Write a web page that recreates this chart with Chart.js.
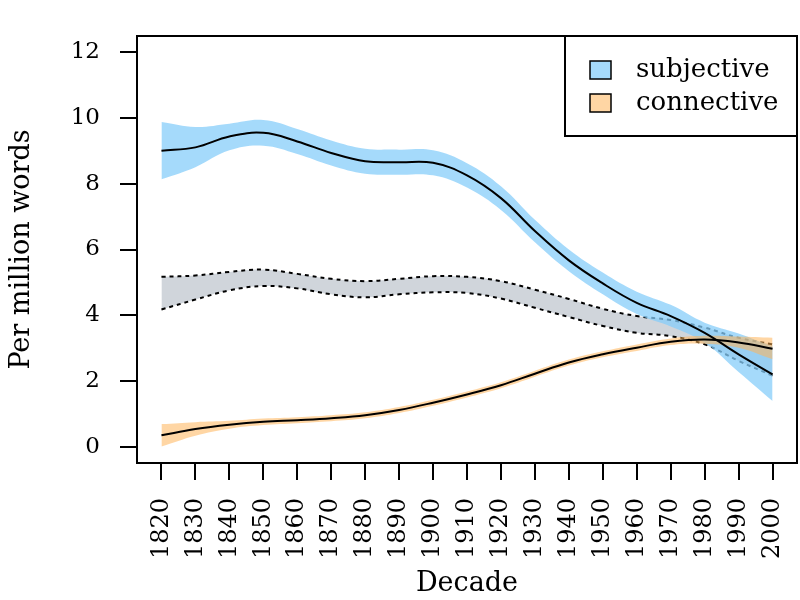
<!DOCTYPE html>
<html>
<head>
<meta charset="utf-8">
<script src="https://cdn.jsdelivr.net/npm/chart.js@4"></script>
<style>
  body { margin: 0; background: #fff; }
  canvas { display: block; }
</style>
</head>
<body>
<canvas id="chart" width="800" height="600"></canvas>
<script>
const decades = [1820, 1830, 1840, 1850, 1860, 1870, 1880, 1890, 1900, 1910,
  1920, 1930, 1940, 1950, 1960, 1970, 1980, 1990, 2000];
const yTicks = [0, 2, 4, 6, 8, 10, 12];

// subjective: smoothed mean and band
const subjective = [9.0, 9.1, 9.43, 9.54, 9.28, 8.93, 8.68, 8.65, 8.63, 8.25,
  7.56, 6.56, 5.67, 4.97, 4.38, 3.98, 3.47, 2.82, 2.21];
const subjUpper = [9.87, 9.72, 9.82, 9.93, 9.66, 9.31, 9.06, 9.03, 9.01, 8.62,
  7.92, 6.9, 6.0, 5.3, 4.72, 4.32, 3.78, 3.45, 3.05];
const subjLower = [8.13, 8.5, 9.01, 9.15, 8.9, 8.55, 8.3, 8.27, 8.25, 7.88,
  7.2, 6.22, 5.34, 4.64, 4.04, 3.66, 3.17, 2.28, 1.4];

// connective: smoothed mean and band
const connective = [0.36, 0.55, 0.68, 0.77, 0.82, 0.88, 0.97, 1.13, 1.35, 1.6,
  1.88, 2.23, 2.57, 2.82, 3.02, 3.2, 3.27, 3.18, 2.99];
const connUpper = [0.7, 0.76, 0.8, 0.87, 0.91, 0.97, 1.06, 1.22, 1.44, 1.69,
  1.97, 2.32, 2.66, 2.91, 3.12, 3.3, 3.38, 3.36, 3.32];
const connLower = [0.02, 0.35, 0.56, 0.67, 0.73, 0.79, 0.88, 1.04, 1.26, 1.51,
  1.79, 2.14, 2.48, 2.73, 2.92, 3.1, 3.14, 3.02, 2.67];

// grey band with dotted edges (no legend entry)
const baseUpper = [5.17, 5.21, 5.32, 5.39, 5.26, 5.11, 5.04, 5.11, 5.19, 5.17,
  5.04, 4.78, 4.5, 4.2, 3.98, 3.86, 3.63, 3.32, 3.12];
const baseLower = [4.18, 4.48, 4.76, 4.89, 4.82, 4.64, 4.55, 4.64, 4.7, 4.68,
  4.51, 4.23, 3.95, 3.68, 3.47, 3.37, 3.12, 2.62, 2.17];

const legendLabels = ["subjective", "connective"];

const BLUE = "rgba(135, 206, 250, 0.75)";
const ORANGE = "rgba(255, 180, 90, 0.55)";
const GREY = "rgba(119, 136, 153, 0.35)";
const FAMILY = "'DejaVu Serif', serif";
const X_TICK_FONT = { family: FAMILY, size: 24 };
const Y_TICK_FONT = { family: FAMILY, size: 23 };
const TITLE_FONT = { family: FAMILY, size: 27 };
const LEGEND_SIZE = 26;

const pts = (arr) => decades.map((d, i) => ({ x: d, y: arr[i] }));

function band(data, color, target, order) {
  return {
    data: pts(data), fill: target, backgroundColor: color,
    borderWidth: 0, pointRadius: 0, tension: 0.4, order
  };
}
function edge(data, order) {
  return {
    data: pts(data), fill: false, borderColor: "#000", borderWidth: 2,
    borderDash: [4, 4], pointRadius: 0, tension: 0.4, order
  };
}

// frame round the plot and the legend box
const framePlugin = {
  id: "frame",
  afterDraw(chart) {
    const { ctx, chartArea: a } = chart;
    ctx.save();
    ctx.strokeStyle = "#000";
    ctx.lineWidth = 2;
    ctx.strokeRect(a.left, a.top, a.right - a.left, a.bottom - a.top);

    const w = 232, h = 100;
    const lx = a.right - w, ly = a.top;
    ctx.fillStyle = "#fff";
    ctx.fillRect(lx, ly, w, h);
    ctx.strokeRect(lx, ly, w, h);
    ctx.font = LEGEND_SIZE + "px " + FAMILY;
    ctx.textBaseline = "middle";
    ctx.textAlign = "left";
    [BLUE, ORANGE].forEach((c, i) => {
      const cy = ly + 34 + i * 33;
      ctx.fillStyle = c;
      ctx.fillRect(lx + 25, cy - 9, 21, 18);
      ctx.lineWidth = 1.5;
      ctx.strokeRect(lx + 25, cy - 9, 21, 18);
      ctx.fillStyle = "#000";
      ctx.fillText(legendLabels[i], lx + 71, cy);
    });
    ctx.restore();
  }
};

new Chart(document.getElementById("chart"), {
  type: "line",
  data: {
    datasets: [
      { label: "subjective", data: pts(subjective), borderColor: "#000", borderWidth: 2,
        pointRadius: 0, tension: 0.4, fill: false, order: 0 },
      { label: "connective", data: pts(connective), borderColor: "#000", borderWidth: 2,
        pointRadius: 0, tension: 0.4, fill: false, order: 1 },
      band(connUpper, ORANGE, 3, 2),
      band(connLower, ORANGE, false, 3),
      band(subjUpper, BLUE, 5, 4),
      band(subjLower, BLUE, false, 5),
      edge(baseUpper, 6),
      Object.assign(edge(baseLower, 7), { fill: 6, backgroundColor: GREY })
    ]
  },
  options: {
    responsive: false,
    animation: false,
    layout: { padding: { left: 0, top: 36, right: 3, bottom: 0 } },
    plugins: { legend: { display: false }, tooltip: { enabled: false } },
    scales: {
      x: {
        type: "linear", min: 1812.8, max: 2007.2,
        afterBuildTicks: (s) => { s.ticks = decades.map((v) => ({ value: v })); },
        afterFit: (s) => { s.height = 137; s.paddingLeft = 0; s.paddingRight = 0; },
        grid: { drawOnChartArea: false, tickLength: 17, color: "#000", lineWidth: 2 },
        border: { display: false },
        ticks: { color: "#000", font: X_TICK_FONT, padding: 18, autoSkip: false,
          minRotation: 90, maxRotation: 90, callback: (v) => String(v) },
        title: { display: true, text: "Decade", color: "#000", font: TITLE_FONT,
          padding: { top: 2, bottom: 0 } }
      },
      y: {
        type: "linear", min: -0.48, max: 12.48,
        afterBuildTicks: (s) => { s.ticks = yTicks.map((v) => ({ value: v })); },
        afterFit: (s) => { s.width = 137; },
        grid: { drawOnChartArea: false, tickLength: 17, color: "#000", lineWidth: 2 },
        border: { display: false },
        ticks: { color: "#000", font: Y_TICK_FONT, padding: 20 },
        title: { display: true, text: "Per million words", color: "#000", font: TITLE_FONT,
          padding: { top: 6, bottom: 0 } }
      }
    }
  },
  plugins: [framePlugin]
});
</script>
</body>
</html>
